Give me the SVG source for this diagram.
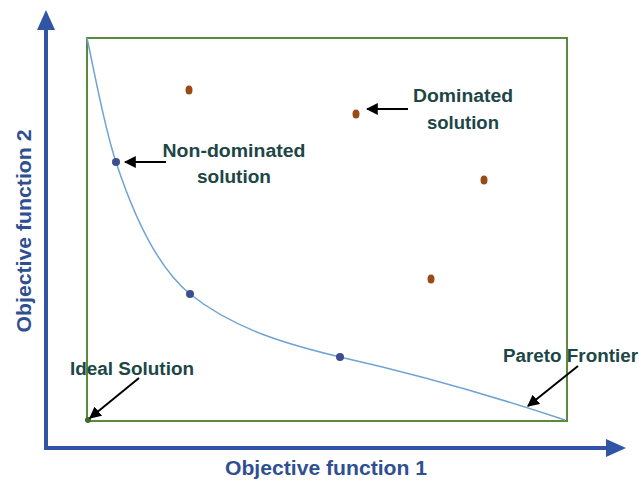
<svg xmlns="http://www.w3.org/2000/svg" width="639" height="480" viewBox="0 0 639 480">
<defs>
<style>
.lbl{font-family:"Liberation Sans",Arial,sans-serif;font-weight:bold;fill:#1d4646;font-size:18px}
.ax{font-family:"Liberation Sans",Arial,sans-serif;font-weight:bold;fill:#2f4f93;font-size:20px}
.ptr{stroke:#000;stroke-width:2;fill:none;marker-end:url(#ah)}
.nd{fill:#3b4f8f}
.dm{fill:#9a4a14}
</style>
<marker id="ah" viewBox="0 0 10 10" refX="9" refY="5" markerWidth="6" markerHeight="6" orient="auto" markerUnits="strokeWidth">
<path d="M0,0 L10,5 L0,10 z" fill="#000"/>
</marker>
</defs>
<rect width="639" height="480" fill="#fff"/>
<g id="axes">
<line x1="46" y1="448" x2="46" y2="26" stroke="#2f55a4" stroke-width="4"/>
<polygon points="46,10 37,30 55,30" fill="#2f55a4"/>
<line x1="44" y1="448" x2="610" y2="448" stroke="#2f55a4" stroke-width="4"/>
<polygon points="626,448 606,439 606,457" fill="#2f55a4"/>
<text class="ax" x="326" y="475" text-anchor="middle" textLength="202" lengthAdjust="spacingAndGlyphs">Objective function 1</text>
<text class="ax" transform="translate(31,231) rotate(-90)" x="0" y="0" text-anchor="middle" textLength="203" lengthAdjust="spacingAndGlyphs">Objective function 2</text>
</g>
<g id="box">
<rect x="87" y="38" width="480" height="383" fill="none" stroke="#5b8a3a" stroke-width="2"/>
</g>
<g id="pareto">
<path d="M87,38 C97,85 105,130 116,162 C135,220 158,268 190,294 C235,330 290,345 340,357 C420,375 490,395 565,420" fill="none" stroke="#6fa3d4" stroke-width="1.5"/>
</g>
<g id="nondominated">
<circle class="nd" cx="116" cy="162" r="4"/>
<circle class="nd" cx="190" cy="294" r="4"/>
<circle class="nd" cx="340" cy="357" r="4"/>
</g>
<g id="dominated">
<ellipse class="dm" cx="189" cy="90" rx="3.5" ry="4.5"/>
<ellipse class="dm" cx="356" cy="114" rx="3.5" ry="4.5"/>
<ellipse class="dm" cx="484" cy="180" rx="3.5" ry="4.5"/>
<ellipse class="dm" cx="431" cy="279" rx="3.5" ry="4.5"/>
</g>
<g id="ideal">
<circle cx="88" cy="420" r="3" fill="#3f6a2a"/>
</g>
<g id="connectors">
<line class="ptr" x1="166" y1="162" x2="125" y2="162"/>
<line class="ptr" x1="408" y1="109" x2="367" y2="109"/>
<line class="ptr" x1="139" y1="378" x2="90" y2="418"/>
<line class="ptr" x1="578" y1="366" x2="528" y2="406"/>
</g>
<g id="labels">
<text class="lbl" x="234" y="157" text-anchor="middle" textLength="143" lengthAdjust="spacingAndGlyphs">Non-dominated</text>
<text class="lbl" x="234" y="183" text-anchor="middle" textLength="74" lengthAdjust="spacingAndGlyphs">solution</text>
<text class="lbl" x="463" y="102" text-anchor="middle" textLength="100" lengthAdjust="spacingAndGlyphs">Dominated</text>
<text class="lbl" x="463" y="129" text-anchor="middle" textLength="72" lengthAdjust="spacingAndGlyphs">solution</text>
<text class="lbl" x="70" y="375" textLength="124" lengthAdjust="spacingAndGlyphs">Ideal Solution</text>
<text class="lbl" x="503" y="362" textLength="135" lengthAdjust="spacingAndGlyphs">Pareto Frontier</text>
</g>
</svg>
